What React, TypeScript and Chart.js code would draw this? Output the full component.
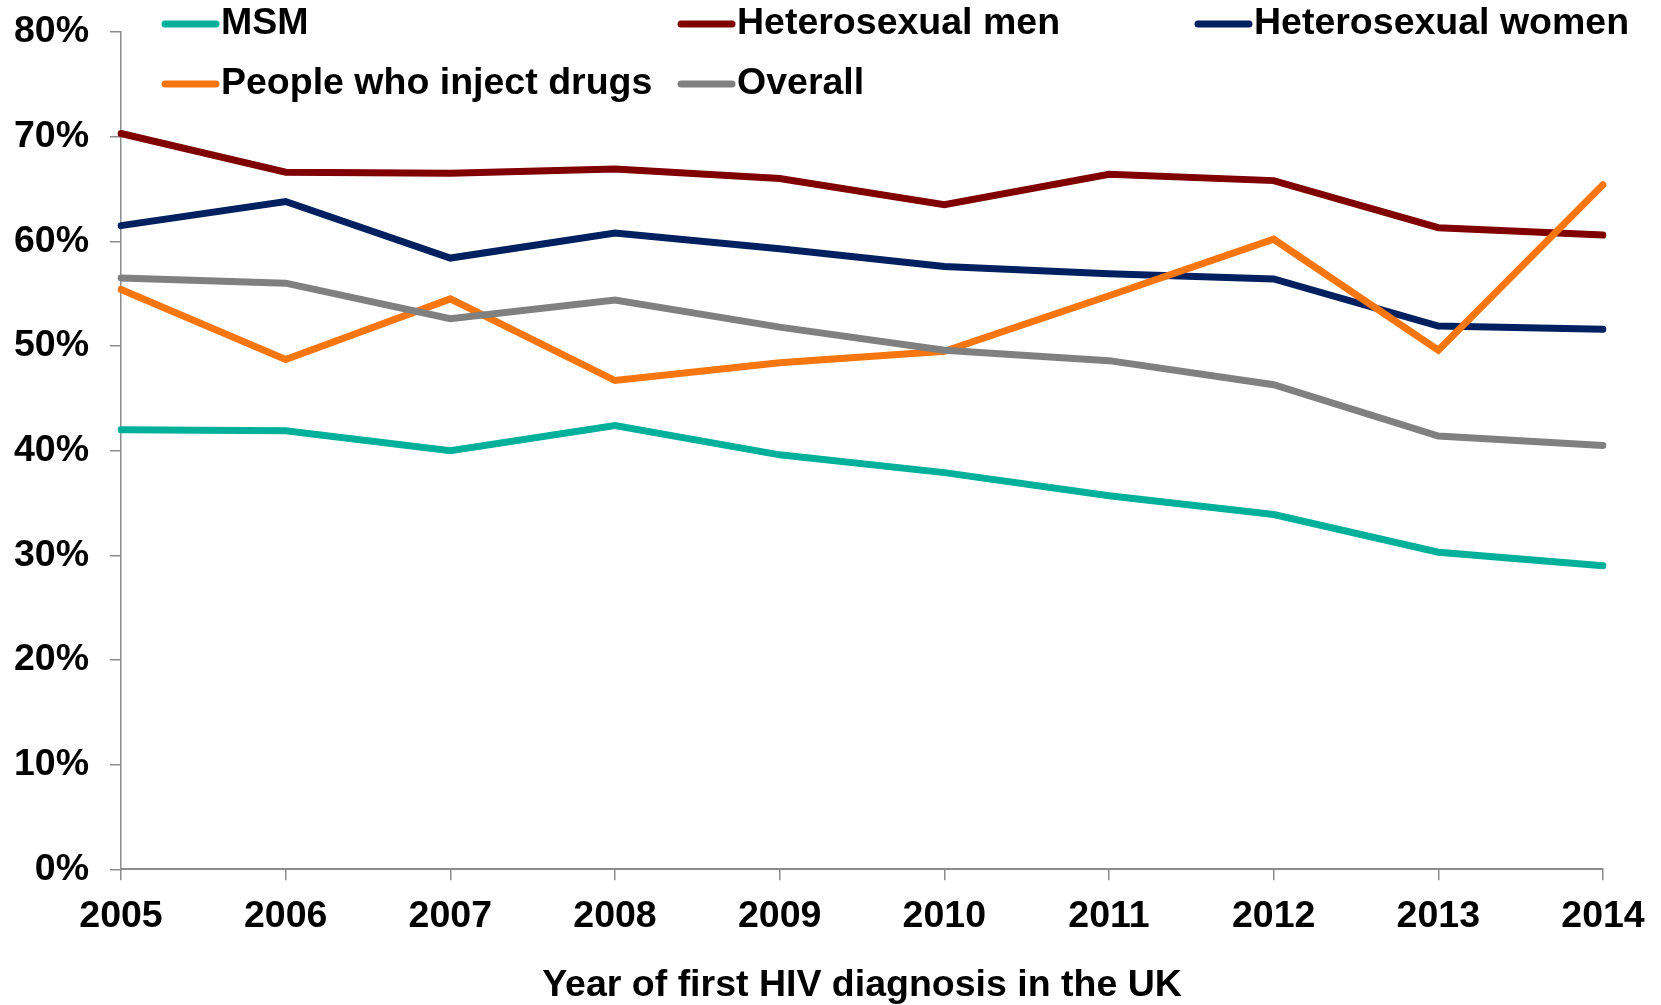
import { useEffect, useRef } from "react";
import { Chart, registerables } from "chart.js";

Chart.register(...registerables);

const years = ["2005", "2006", "2007", "2008", "2009", "2010", "2011", "2012", "2013", "2014"];
const seriesLabels = ["MSM", "Heterosexual men", "Heterosexual women", "People who inject drugs", "Overall"];
const seriesColors = ["#00B09B", "#800000", "#002060", "#F7760F", "#808080"];
const msm = [42.0, 41.9, 40.0, 42.4, 39.6, 37.9, 35.7, 33.9, 30.3, 29.0];
const heteroMen = [70.3, 66.6, 66.5, 66.9, 66.0, 63.5, 66.4, 65.8, 61.3, 60.6];
const heteroWomen = [61.5, 63.8, 58.4, 60.8, 59.3, 57.6, 56.9, 56.4, 51.9, 51.6];
const pwid = [55.4, 48.7, 54.5, 46.7, 48.4, 49.5, 54.8, 60.2, 49.6, 65.4];
const overall = [56.5, 56.0, 52.6, 54.4, 51.8, 49.6, 48.6, 46.3, 41.4, 40.5];
const yMin = 0;
const yMax = 80;
const yStep = 10;
const xTitle = "Year of first HIV diagnosis in the UK";

const FONT = "'Liberation Sans', Arial, Helvetica, sans-serif";
const FONT_SIZE = 37.5;
const AXIS_GRAY = "#8c8c8c";

const gridLegend = {
  id: "gridLegend",
  afterDraw(chart: any) {
    const ctx = chart.ctx;
    const cols = [162, 678, 1195];
    const rows = [24, 84];
    ctx.save();
    ctx.font = `bold ${FONT_SIZE}px ${FONT}`;
    ctx.textBaseline = "middle";
    ctx.textAlign = "left";
    chart.data.datasets.forEach((ds: any, i: number) => {
      const x = cols[i % 3];
      const y = rows[Math.floor(i / 3)];
      ctx.strokeStyle = ds.borderColor;
      ctx.lineWidth = 7;
      ctx.lineCap = "round";
      ctx.beginPath();
      ctx.moveTo(x + 3, y);
      ctx.lineTo(x + 54, y);
      ctx.stroke();
      ctx.fillStyle = "#000000";
      ctx.fillText(ds.label, x + 59, y);
    });
    ctx.restore();
  },
};

export default function App() {
  const canvasRef = useRef<HTMLCanvasElement | null>(null);

  useEffect(() => {
    document.body.style.margin = "0";
    document.body.style.overflow = "hidden";
    const canvas = canvasRef.current;
    if (!canvas) return;
    const seriesValues = [msm, heteroMen, heteroWomen, pwid, overall];
    const chart = new Chart(canvas, {
      type: "line",
      data: {
        labels: years,
        datasets: seriesValues.map((vals, i) => ({
          label: seriesLabels[i],
          data: vals,
          borderColor: seriesColors[i],
          backgroundColor: seriesColors[i],
          borderWidth: 7,
          borderCapStyle: "round",
          borderJoinStyle: "miter",
          pointRadius: 0,
          pointHoverRadius: 0,
          tension: 0,
          fill: false,
          order: seriesValues.length - 1 - i,
        })),
      },
      options: {
        animation: false,
        responsive: false,
        devicePixelRatio: 1,
        layout: { padding: { left: 0, top: 32, right: 58, bottom: 0 } },
        plugins: {
          legend: { display: false },
          tooltip: { enabled: false },
        },
        scales: {
          x: {
            type: "category",
            offset: false,
            afterFit: (scale: any) => {
              scale.height = 1005 - 869.3;
              scale.paddingLeft = 0;
              scale.paddingRight = 0;
            },
            grid: {
              display: true,
              drawOnChartArea: false,
              drawTicks: true,
              tickLength: 11,
              color: AXIS_GRAY,
              lineWidth: 1.5,
            },
            border: { display: true, color: AXIS_GRAY, width: 2 },
            ticks: {
              color: "#000000",
              padding: 14,
              maxRotation: 0,
              autoSkip: false,
              font: { family: FONT, size: FONT_SIZE, weight: "bold" },
            },
            title: {
              display: true,
              text: xTitle,
              color: "#000000",
              font: { family: FONT, size: FONT_SIZE, weight: "bold", lineHeight: 1 },
              padding: { top: 0, bottom: 1 },
            },
          },
          y: {
            min: yMin,
            max: yMax,
            afterFit: (scale: any) => {
              scale.width = 121;
              scale.paddingTop = 0;
              scale.paddingBottom = 0;
            },
            grid: {
              display: true,
              drawOnChartArea: false,
              drawTicks: true,
              tickLength: 11,
              color: AXIS_GRAY,
              lineWidth: 1.5,
            },
            border: { display: true, color: AXIS_GRAY, width: 1.5 },
            ticks: {
              stepSize: yStep,
              color: "#000000",
              padding: 21,
              font: { family: FONT, size: FONT_SIZE, weight: "bold" },
              callback: (v: any) => `${v}%`,
            },
          },
        },
      },
      plugins: [gridLegend],
    });
    return () => chart.destroy();
  }, []);

  return (
    <div style={{ width: 1661, height: 1005, background: "#ffffff" }}>
      <canvas ref={canvasRef} width={1661} height={1005} style={{ display: "block" }} />
    </div>
  );
}
